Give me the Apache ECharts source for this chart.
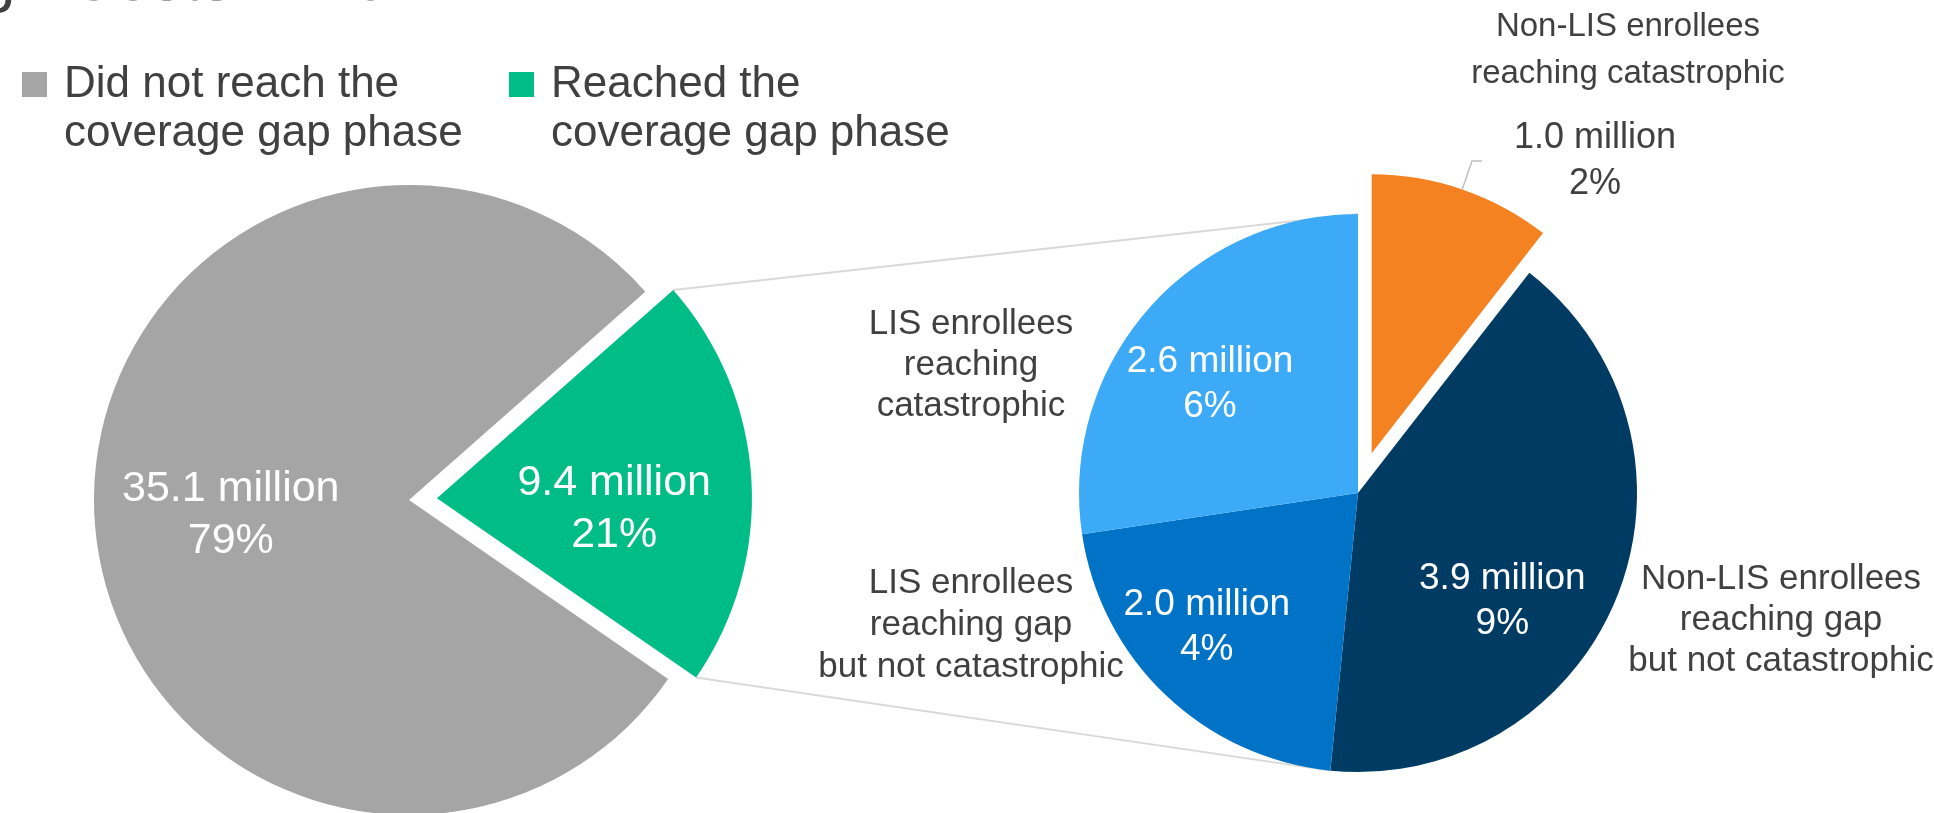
<!DOCTYPE html>
<html><head><meta charset="utf-8">
<script src="https://cdn.jsdelivr.net/npm/echarts@6/dist/echarts.min.js"></script>
<style>html,body{margin:0;padding:0;background:#fff}#c{width:1934px;height:813px}</style>
</head><body><div id="c"></div>
<script>
// ---------- data ----------
const titleText = 'g   Costs in 2017';
const leftCategories = ['Did not reach the\ncoverage gap phase', 'Reached the\ncoverage gap phase'];
const leftValues = [35.1, 9.4];
const rightCategories = [
  'Non-LIS enrollees\nreaching catastrophic',
  'Non-LIS enrollees\nreaching gap\nbut not catastrophic',
  'LIS enrollees\nreaching gap\nbut not catastrophic',
  'LIS enrollees\nreaching\ncatastrophic'
];
const rightValues = [1.0, 3.9, 2.0, 2.6];

// ---------- styles / layout ----------
const leftColors = ['#A5A5A5', '#00BC87'];
const rightColors = ['#F58220', '#003B64', '#0073C6', '#3DAAF8'];
const FONT = '"Liberation Sans", Arial, Helvetica, sans-serif';
const TXT = '#404040';

const L = {cx: 409, cy: 500, r: 315, explode: 28};
const R = {cx: 1358, cy: 493, r: 279, explode: 42};
const greenStartDeg = 41.4;

const total = leftValues.reduce((a, b) => a + b, 0);
const rTotal = rightValues.reduce((a, b) => a + b, 0);
const pct = v => Math.round(v / total * 100) + '%';
const mil = v => v.toFixed(1) + ' million';
const rad = d => d * Math.PI / 180;

const leftStart = greenStartDeg + leftValues[0] / total * 360;

// connector geometry derived from pie geometry + data
const gSpan = leftValues[1] / total * 360;
const gMid = greenStartDeg - gSpan / 2;
const vx = L.cx + L.explode * Math.cos(rad(gMid));
const vy = L.cy - L.explode * Math.sin(rad(gMid));
const gTop = [vx + L.r * Math.cos(rad(greenStartDeg)), vy - L.r * Math.sin(rad(greenStartDeg))];
const gBot = [vx + L.r * Math.cos(rad(greenStartDeg - gSpan)), vy - L.r * Math.sin(rad(greenStartDeg - gSpan))];
const rTopAng = 90;
const rBotAng = 90 - (rightValues[0] + rightValues[1]) / rTotal * 360;
const rTop = [R.cx + R.r * Math.cos(rad(rTopAng)), R.cy - R.r * Math.sin(rad(rTopAng))];
const rBot = [R.cx + R.r * Math.cos(rad(rBotAng)), R.cy - R.r * Math.sin(rad(rBotAng))];

const leftNudge = [[-18, 6], [17, 20]];
const rightNudge = [[0, 0], [12, 55], [-53, 31], [-40, -16]];
const rightNamePos = [[1628, 50], [1781, 620], [971, 625], [971, 365]];
const rightNameFont = [33, 35, 35, 35];
const rightNameLH = [47, 41, 42, 41];

const chart = echarts.init(document.getElementById('c'), null, {renderer: 'canvas'});

const leftData = leftValues.map((v, i) => ({
  name: leftCategories[i], value: v,
  selected: i === 1,
  itemStyle: {color: leftColors[i]}
}));

const rightData = rightValues.map((v, i) => {
  const d = {name: rightCategories[i], value: v, selected: i === 0, itemStyle: {color: rightColors[i]}};
  if (i === 0) {
    d.label = {
      show: true, position: 'outside',
      formatter: p => '{v|' + mil(p.value) + '}\n{v|' + pct(p.value) + '}',
      distanceToLabelLine: 32,
      rich: {v: {fontFamily: FONT, fontSize: 36, lineHeight: 46, color: TXT, align: 'center'}}
    };
    d.labelLine = {show: true, length: 30, length2: 10, smooth: false, lineStyle: {color: '#BFBFBF', width: 1.5}};
  } else {
    d.label = {show: true, position: 'inside', color: '#fff', fontFamily: FONT, fontSize: 37, lineHeight: 45,
      formatter: p => mil(p.value) + '\n' + pct(p.value)};
    d.labelLine = {show: false};
  }
  return d;
});

const legendIcon = 'path://M0,12L25,12L25,37L0,37Z M0,0L0.01,0 M37,98L36.99,98';
const legendBase = {
  orient: 'horizontal', top: 60, padding: 0, selectedMode: false,
  icon: legendIcon, itemWidth: 37, itemHeight: 98,
  textStyle: {fontFamily: FONT, fontSize: 44, lineHeight: 49, color: TXT}
};

const graphics = [
  {type: 'text', left: -20, top: -50, z: 10,
   style: {text: titleText, font: '64px ' + FONT, fill: TXT}},
  {type: 'line', z: 0, shape: {x1: gTop[0], y1: gTop[1], x2: rTop[0], y2: rTop[1]},
   style: {stroke: '#D9D9D9', lineWidth: 2}},
  {type: 'line', z: 0, shape: {x1: gBot[0], y1: gBot[1], x2: rBot[0], y2: rBot[1]},
   style: {stroke: '#D9D9D9', lineWidth: 2}}
];
rightCategories.forEach((n, i) => {
  graphics.push({type: 'text', x: rightNamePos[i][0], y: rightNamePos[i][1], z: 10,
    style: {text: n, font: rightNameFont[i] + 'px ' + FONT, fill: TXT, align: 'center',
      verticalAlign: 'middle', lineHeight: rightNameLH[i]}});
});

chart.setOption({
  animation: false,
  backgroundColor: '#fff',
  legend: [
    Object.assign({}, legendBase, {left: 22, data: [leftCategories[0]]}),
    Object.assign({}, legendBase, {left: 509, data: [leftCategories[1]]})
  ],
  graphic: graphics,
  series: [
    {
      type: 'pie', name: 'left', center: [L.cx, L.cy], radius: [0, L.r],
      startAngle: leftStart, clockwise: true, selectedMode: 'single', selectedOffset: L.explode,
      avoidLabelOverlap: false, emphasis: {disabled: true}, silent: true,
      itemStyle: {borderWidth: 0},
      label: {show: true, position: 'inside', color: '#fff', fontFamily: FONT, fontSize: 43, lineHeight: 52,
        formatter: p => mil(p.value) + '\n' + pct(p.value)},
      labelLine: {show: false},
      labelLayout: p => ({dx: leftNudge[p.dataIndex][0], dy: leftNudge[p.dataIndex][1]}),
      data: leftData
    },
    {
      type: 'pie', name: 'right', center: [R.cx, R.cy], radius: [0, R.r],
      startAngle: 90, clockwise: true, selectedMode: 'single', selectedOffset: R.explode,
      avoidLabelOverlap: false, emphasis: {disabled: true}, silent: true,
      itemStyle: {borderWidth: 0},
      labelLayout: p => ({dx: rightNudge[p.dataIndex][0], dy: rightNudge[p.dataIndex][1]}),
      data: rightData
    }
  ]
});
</script></body></html>
